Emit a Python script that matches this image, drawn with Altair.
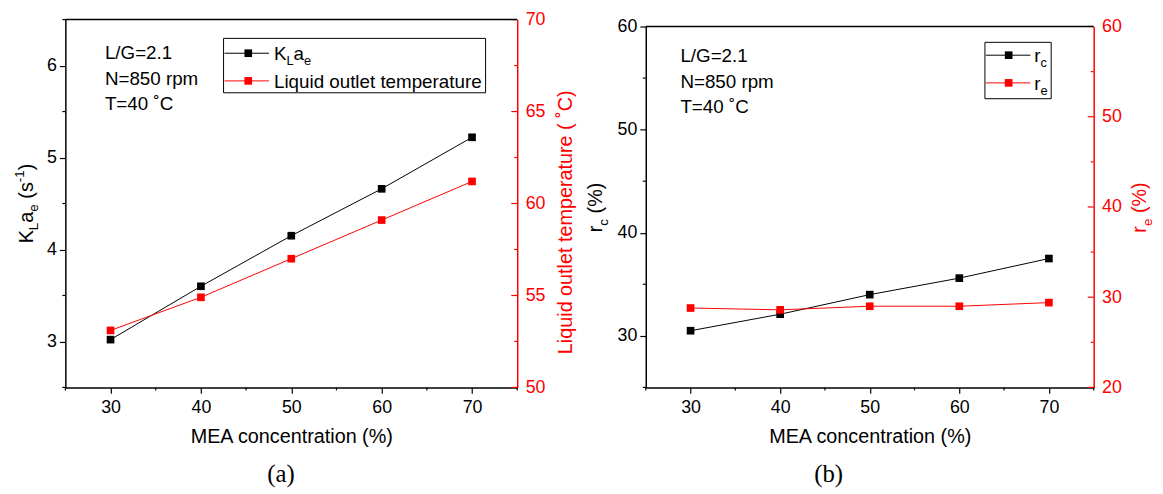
import altair as alt
import pandas as pd

# ---------------- data ----------------
mea = [30, 40, 50, 60, 70]
kla = [3.02, 3.60, 4.15, 4.66, 5.22]
t_out = [53.1, 54.9, 57.0, 59.1, 61.2]
rc = [30.5, 32.1, 34.0, 35.6, 37.5]
re_ = [28.8, 28.6, 29.0, 29.0, 29.4]

x_major = [30, 40, 50, 60, 70]
x_minor = [25, 35, 45, 55, 65, 75]
a_left_major = [3, 4, 5, 6]
a_left_minor = [2.5, 3.5, 4.5, 5.5, 6.5]
a_right_major = [50, 55, 60, 65, 70]
a_right_minor = [52.5, 57.5, 62.5, 67.5]
b_left_major = [30, 40, 50, 60]
b_left_minor = [25, 35, 45, 55]
b_right_major = [20, 30, 40, 50, 60]
b_right_minor = [25, 35, 45, 55]

notes = ["L/G=2.1", "N=850 rpm", "T=40 \u02daC"]
x_title = "MEA concentration (%)"
a_right_title = "Liquid outlet temperature ( \u02daC)"

FONT = "Liberation Sans"
SERIF = "Liberation Serif"
RED = "#ff0000"
ONE = alt.Data(values=[{"k": 0}])

ADV = {"K": 667, "L": 556, "a": 556, "e": 556, " ": 278, "(": 333, ")": 333,
       "s": 500, "-": 333, "1": 556, "r": 333, "c": 500, "%": 889}


def tw(s, fs):
    return sum(ADV.get(ch, 556) for ch in s) * fs / 1000.0


def txt(s, x, y, fs, color="black", angle=0, align="left", baseline="alphabetic", font=FONT):
    return alt.Chart(ONE).mark_text(
        text=s, align=align, baseline=baseline, font=font, fontSize=fs,
        color=color, angle=angle
    ).encode(x=alt.value(x), y=alt.value(y))


def rich(parts, x, y, fs, color="black", vertical=False, center=True):
    small = fs * 0.68
    items = []
    for s, kind in parts:
        size = fs if kind == "n" else small
        shift = 0 if kind == "n" else (0.28 * fs if kind == "sub" else -0.42 * fs)
        items.append((s, size, shift))
    total = sum(tw(s, size) for s, size, _ in items)
    out = []
    cur = (y + total / 2 if center else y) if vertical else (x - total / 2 if center else x)
    for s, size, shift in items:
        lead = len(s) - len(s.lstrip(" "))
        adv0 = tw(" " * lead, size)
        body = s.lstrip(" ")
        if vertical:
            cur -= adv0
            out.append(txt(body, x + shift, cur, size, color, angle=270))
            cur -= tw(body, size)
        else:
            cur += adv0
            out.append(txt(body, cur, y + shift, size, color))
            cur += tw(body, size)
    return out


def panel(df, c1, c2, dom1, dom2, maj1, min1, maj2, min2, W, H,
          left_title, right_title, legend, notes_pos, caption):
    xscale = alt.Scale(domain=[25, 75], nice=False, zero=False)
    xaxis = alt.Axis(
        values=x_major, title=x_title, tickSize=6, labelPadding=5,
        labelFontSize=18, titleFontSize=20, titlePadding=11,
        titleFontWeight="normal", domainColor="black", tickColor="black",
        labelColor="black", titleColor="black")
    s1 = alt.Scale(domain=dom1, nice=False, zero=False)
    s2 = alt.Scale(domain=dom2, nice=False, zero=False)
    ax1 = alt.Axis(values=maj1, title=None, tickSize=6, labelPadding=3, labelFontSize=18,
                   domainColor="black", tickColor="black", labelColor="black")
    ax2 = alt.Axis(orient="right", values=maj2, title=None, ticks=False, labelPadding=8,
                   labelFontSize=18, domainColor=RED, labelColor=RED)

    def vrules(vals, scale, axis, x1, x2, color):
        return alt.Chart(alt.Data(values=[{"v": v} for v in vals])).mark_rule(
            color=color, strokeWidth=1.2
        ).encode(y=alt.Y("v:Q", scale=scale, axis=axis), x=alt.value(x1), x2=alt.value(x2))

    X = alt.X("mea:Q", scale=xscale, axis=xaxis)
    b1 = alt.Chart(df).encode(x=X, y=alt.Y(f"{c1}:Q", scale=s1, axis=ax1))
    sub1 = alt.layer(
        b1.mark_line(color="black", strokeWidth=1),
        b1.mark_square(size=60, color="black", opacity=1),
        vrules(min1, s1, ax1, -3, 0, "black"),
    )
    b2 = alt.Chart(df).encode(x=X, y=alt.Y(f"{c2}:Q", scale=s2, axis=ax2))
    sub2 = alt.layer(
        b2.mark_line(color=RED, strokeWidth=1),
        b2.mark_square(size=60, color=RED, opacity=1),
        vrules(maj2, s2, ax2, W - 6, W, RED),
        vrules(min2, s2, ax2, W - 3, W, RED),
    )
    xminor = alt.Chart(alt.Data(values=[{"v": v} for v in x_minor])).mark_rule(
        color="black", strokeWidth=1.2
    ).encode(x=alt.X("v:Q", scale=xscale, axis=xaxis), y=alt.value(H), y2=alt.value(H + 3))
    top = alt.Chart(ONE).mark_rule(color="black", strokeWidth=1.5).encode(
        x=alt.value(0), x2=alt.value(W), y=alt.value(0))

    extra = [xminor, top]
    nx, nys = notes_pos
    for s, yy in zip(notes, nys):
        extra.append(txt(s, nx, yy, 19))
    (bx1, bx2, by1, by2), (lx1, lx2, sqx, labx), rows = legend
    extra.append(alt.Chart(ONE).mark_rect(fill="white", stroke="black", strokeWidth=1).encode(
        x=alt.value(bx1), x2=alt.value(bx2), y=alt.value(by1), y2=alt.value(by2)))
    for (ry, color, parts) in rows:
        extra.append(alt.Chart(ONE).mark_rule(color=color, strokeWidth=1).encode(
            x=alt.value(lx1), x2=alt.value(lx2), y=alt.value(ry)))
        extra.append(alt.Chart(ONE).mark_square(size=60, color=color, opacity=1).encode(
            x=alt.value(sqx), y=alt.value(ry)))
        extra += rich(parts, labx, ry + 7, 19, center=False)
    (lparts, lx, ly) = left_title
    extra += rich(lparts, lx, ly, 20, "black", vertical=True)
    (rparts, rx, ry2) = right_title
    extra += rich(rparts, rx, ry2, 20, RED, vertical=True)
    cs, cx, cy = caption
    extra.append(txt(cs, cx, cy, 25, align="center", baseline="middle", font=SERIF))

    return alt.layer(sub1, sub2, *extra).resolve_scale(y="independent").properties(
        width=W, height=H)


df_a = pd.DataFrame({"mea": mea, "kla": kla, "temp": t_out})
df_b = pd.DataFrame({"mea": mea, "rc": rc, "re": re_})

WA, HA = 457, 372
WB, HB = 453, 365

pa = panel(
    df_a, "kla", "temp", [2.5, 6.5], [50, 70],
    a_left_major, a_left_minor, a_right_major, a_right_minor, WA, HA,
    ([("K", "n"), ("L", "sub"), ("a", "n"), ("e", "sub"), (" (s", "n"), ("-1", "sup"), (")", "n")], -33, 186),
    ([(a_right_title, "n")], WA + 55, 186),
    ((160, 425, 19, 74), (161, 206, 185, 211),
     [(34, "black", [("K", "n"), ("L", "sub"), ("a", "n"), ("e", "sub")]),
      (62, RED, [("Liquid outlet temperature", "n")])]),
    (40, [40, 66, 91]),
    ("(a)", 218, 460),
)

pb = panel(
    df_b, "rc", "re", [25, 60], [20, 60],
    b_left_major, b_left_minor, b_right_major, b_right_minor, WB, HB,
    ([("r", "n"), ("c", "sub"), (" (%)", "n")], -44, 183),
    ([("r", "n"), ("e", "sub"), (" (%)", "n")], WB + 53, 183),
    ((343, 410, 16, 73), (344, 389, 367, 393),
     [(29, "black", [("r", "n"), ("c", "sub")]),
      (57, RED, [("r", "n"), ("e", "sub")])]),
    (35, [36, 62, 87]),
    ("(b)", 185, 453),
)

spacer = alt.Chart(ONE).mark_text(text=" ").encode(
    x=alt.value(0), y=alt.value(0)).properties(width=WB, height=7)

right_col = alt.vconcat(spacer, pb, spacing=0, bounds="flush")

chart = alt.hconcat(pa, right_col, spacing=130, bounds="flush").properties(
    padding={"left": 5, "top": 0, "right": 0, "bottom": 0}
).configure_view(stroke=None).configure_axis(
    grid=False, labelFont=FONT, titleFont=FONT, domainWidth=1.5, tickWidth=1.2
)

chart.save("out.html", embed_options={"renderer": "svg", "actions": False})
